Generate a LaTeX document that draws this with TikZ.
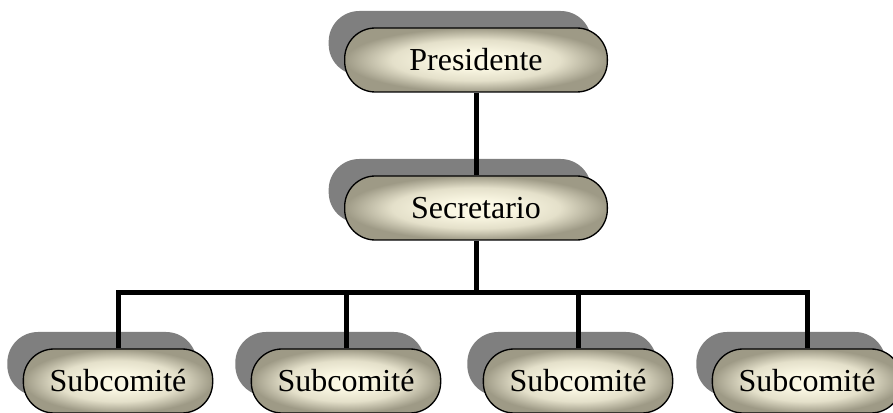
\documentclass[tikz,border=0pt]{standalone}
\usepackage{fontspec}
\setmainfont{Liberation Serif}
\usetikzlibrary{shadows}
\definecolor{boxin}{HTML}{FBF8E4}
\definecolor{boxmid}{HTML}{E4E0CA}
\definecolor{boxout}{HTML}{9E9A86}
\definecolor{shad}{HTML}{7F7F7F}
\pgfdeclareradialshading{boxshade}{\pgfpoint{0bp}{0bp}}{color(0bp)=(boxin); color(6bp)=(boxin); color(16bp)=(boxmid); color(25bp)=(boxout); color(50bp)=(boxout)}
\begin{document}
\begin{tikzpicture}[x=0.75pt,y=-0.75pt,
  role/.style={draw=black, line width=1pt, rounded corners=23pt, minimum height=48pt,
    inner sep=0pt, font=\fontsize{24}{28}\selectfont, shading=boxshade,
    drop shadow={shadow xshift=-12pt, shadow yshift=12.75pt, fill=shad, opacity=1}},
  topbox/.style={role, minimum width=197pt},
  subbox/.style={role, minimum width=142pt},
  link/.style={line width=3.75pt, draw=black}]
\useasboundingbox (0,0) rectangle (893,413);
\clip (0,0) rectangle (893,413);
\node[topbox] (p) at (476,60) {Presidente};
\node[topbox] (s) at (476,208) {Secretario};
\node[subbox] (b1) at (118,381) {Subcomité};
\node[subbox] (b2) at (346,381) {Subcomité};
\node[subbox] (b3) at (578,381) {Subcomité};
\node[subbox] (b4) at (807,381) {Subcomité};
\coordinate (j) at (476,293);
\draw[link] (p.south) -- (s.north);
\draw[link] (s.south) -- (j);
\draw[link] (b1.north) -- (b1.north |- j) -- (b4.north |- j) -- (b4.north);
\draw[link] (b2.north) -- (b2.north |- j);
\draw[link] (b3.north) -- (b3.north |- j);
\end{tikzpicture}
\end{document}
